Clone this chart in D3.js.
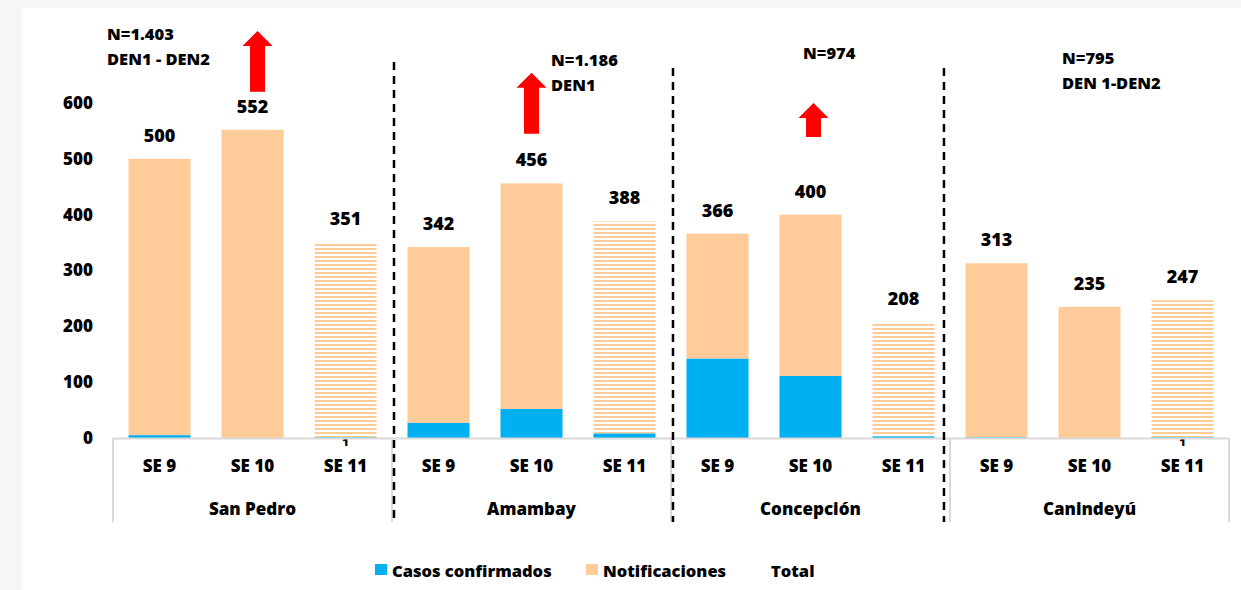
<!DOCTYPE html>
<html>
<head>
<meta charset="utf-8">
<script src="https://cdn.jsdelivr.net/npm/d3@7"></script>
<style>
  body { margin: 0; background: #fff; }
  svg text { font-family: "Open Sans", sans-serif; font-weight: 800; fill: #000; }
</style>
</head>
<body>
<div class="chart"></div>
<script>
//// data

const departamentos = ['San Pedro', 'Amambay', 'Concepción', 'Canindeyú'];
const semanas = ['SE 9', 'SE 10', 'SE 11'];

// one value per bar, departamento by departamento, SE 9 - SE 11
const totales = [500, 552, 351, 342, 456, 388, 366, 400, 208, 313, 235, 247];
const confirmados = [5, 0, 1, 27, 52, 8, 142, 111, 3, 1, 0, 1];
const conLabelConf = [false, false, true, false, false, false, false, false, false, false, false, true];

const yTicks = [0, 100, 200, 300, 400, 500, 600];

// annotation per departamento
const anotaciones = [
    ['N=1.403', 'DEN1 - DEN2'],
    ['N=1.186', 'DEN1'],
    ['N=974'],
    ['N=795', 'DEN 1-DEN2']
];
// red arrows: bar index, from / to (y axis units)
const flechas = [
    {bar: 1, lo: 620, hi: 729},
    {bar: 4, lo: 545, hi: 654},
    {bar: 7, lo: 539, hi: 600}
];

const legendItems = ['Casos confirmados', 'Notificaciones', 'Total'];

const BLUE = '#00B0F0';
const ORANGE = '#FFCC99';


//// build

const W = 1241, H = 590;

const bars = [];
departamentos.forEach((dep, i) => {
    semanas.forEach((se, j) => {
        const k = i * 3 + j;
        bars.push({
            key: dep + '|' + se,
            dep: dep,
            se: se,
            total: totales[k],
            conf: confirmados[k],
            showConf: conLabelConf[k],
            hatched: se == 'SE 11'
        });
    });
});

const svg = d3.select('.chart')
    .append('svg')
    .attr('width', W)
    .attr('height', H);

// faded page border like the slide
svg.append('rect').attr('width', W).attr('height', H).attr('fill', '#f6f6f6');
svg.append('rect').attr('x', 22).attr('y', 8).attr('width', W - 22).attr('height', H - 8).attr('fill', '#fff');

const defs = svg.append('defs');
const hatch = defs.append('pattern')
    .attr('id', 'hatch')
    .attr('patternUnits', 'userSpaceOnUse')
    .attr('width', 4)
    .attr('height', 4);
hatch.append('rect').attr('width', 4).attr('height', 4).attr('fill', '#fff');
hatch.append('rect').attr('width', 4).attr('height', 2).attr('fill', ORANGE);

const x = d3.scaleBand()
    .domain(bars.map(d => d.key))
    .range([113, 1229])
    .paddingInner(0.333)
    .paddingOuter(0.1667);

const y = d3.scaleLinear()
    .domain([0, 600])
    .range([438, 103]);

const cx = d => x(d.key) + x.bandwidth() / 2;

// y axis labels (no line)
const yAxis = svg.append('g')
    .attr('transform', 'translate(97,0)')
    .call(d3.axisLeft(y).tickValues(yTicks).tickSize(0).tickPadding(4));
yAxis.select('.domain').remove();
yAxis.selectAll('text')
    .style('font-family', '"Open Sans", sans-serif')
    .style('font-weight', '800')
    .style('font-size', '17px')
    .attr('fill', '#000');

// bars
const plot = svg.append('g');

const barG = plot.selectAll('.bar')
    .data(bars)
    .enter().append('g')
    .attr('class', 'bar');

barG.append('rect')
    .attr('x', d => x(d.key))
    .attr('width', x.bandwidth())
    .attr('y', d => y(d.total))
    .attr('height', d => y(d.conf) - y(d.total))
    .attr('fill', d => d.hatched ? 'url(#hatch)' : ORANGE);

barG.append('rect')
    .attr('x', d => x(d.key))
    .attr('width', x.bandwidth())
    .attr('y', d => y(d.conf))
    .attr('height', d => y(0) - y(d.conf))
    .attr('fill', BLUE);

barG.append('text')
    .attr('x', cx)
    .attr('y', d => y(d.total) - 17)
    .attr('text-anchor', 'middle')
    .style('font-size', '18px')
    .text(d => d.total);

barG.filter(d => d.showConf)
    .append('text')
    .attr('x', cx)
    .attr('y', y(0) + 8)
    .attr('text-anchor', 'middle')
    .style('font-size', '11px')
    .text(d => d.conf);

// category axis
const axisG = svg.append('g');
axisG.append('line')
    .attr('x1', 113).attr('x2', 1229)
    .attr('y1', y(0) + 0.5).attr('y2', y(0) + 0.5)
    .attr('stroke', '#d9d9d9')
    .attr('stroke-width', 2);

const step = x.step();
const groupEdges = departamentos.map((dep, i) => x(bars[i * 3].key) - step * 0.1667);
groupEdges.push(1229);

axisG.selectAll('.sep')
    .data(groupEdges)
    .enter().append('line')
    .attr('x1', d => d).attr('x2', d => d)
    .attr('y1', y(0)).attr('y2', 522)
    .attr('stroke', '#d9d9d9')
    .attr('stroke-width', 2);

axisG.selectAll('.se')
    .data(bars)
    .enter().append('text')
    .attr('x', cx)
    .attr('y', 472)
    .attr('text-anchor', 'middle')
    .style('font-size', '17px')
    .text(d => d.se);

axisG.selectAll('.dep')
    .data(departamentos)
    .enter().append('text')
    .attr('x', (d, i) => (groupEdges[i] + groupEdges[i + 1]) / 2)
    .attr('y', 515)
    .attr('text-anchor', 'middle')
    .style('font-size', '17px')
    .text(d => d);

// dashed dividers between departamentos
const dividers = [
    {edge: 1, off: 2, top: 62},
    {edge: 2, off: 2, top: 68},
    {edge: 3, off: -6, top: 68}
];
svg.selectAll('.div')
    .data(dividers)
    .enter().append('line')
    .attr('x1', d => groupEdges[d.edge] + d.off)
    .attr('x2', d => groupEdges[d.edge] + d.off)
    .attr('y1', d => d.top)
    .attr('y2', 522)
    .attr('stroke', '#000')
    .attr('stroke-width', 2.5)
    .attr('stroke-dasharray', '8,6');

// annotations N=...
const notePos = [[107, 40], [551, 66], [803, 59], [1062, 64]];
anotaciones.forEach((lines, i) => {
    const t = svg.append('text')
        .attr('x', notePos[i][0])
        .attr('y', notePos[i][1])
        .style('font-size', '16.5px');
    lines.forEach((l, j) => {
        t.append('tspan')
            .attr('x', notePos[i][0])
            .attr('dy', j == 0 ? 0 : 25)
            .text(l);
    });
});

// red arrows
const arrowOff = [5, 0, 3];
svg.selectAll('.arrow')
    .data(flechas)
    .enter().append('path')
    .attr('fill', '#ff0000')
    .attr('d', (d, i) => {
        const c = cx(bars[d.bar]) + arrowOff[i];
        const top = y(d.hi), bot = y(d.lo);
        const hw = 15, sw = 7.5, hh = 15;
        return `M${c},${top} L${c + hw},${top + hh} L${c + sw},${top + hh} L${c + sw},${bot}` +
            ` L${c - sw},${bot} L${c - sw},${top + hh} L${c - hw},${top + hh} Z`;
    });

// legend
const legendX = [375, 586, 771];
const legColors = [BLUE, ORANGE, null];
const leg = svg.append('g');
legendItems.forEach((name, i) => {
    if (legColors[i]) {
        leg.append('rect')
            .attr('x', legendX[i]).attr('y', 564)
            .attr('width', 12).attr('height', 11)
            .attr('fill', legColors[i]);
        leg.append('text')
            .attr('x', legendX[i] + 17).attr('y', 577)
            .style('font-size', '16.5px')
            .text(name);
    } else {
        leg.append('text')
            .attr('x', legendX[i]).attr('y', 577)
            .style('font-size', '16.5px')
            .text(name);
    }
});
</script>
</body>
</html>
